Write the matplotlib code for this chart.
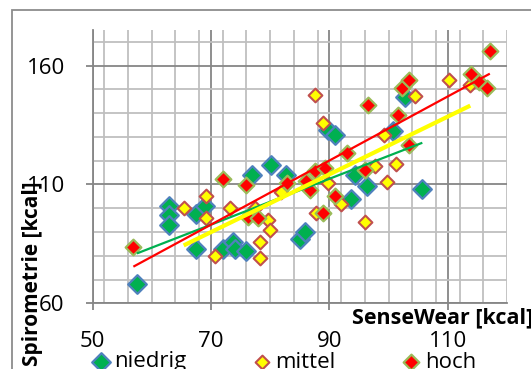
import numpy as np
import matplotlib
matplotlib.use("Agg")
import matplotlib.pyplot as plt
from matplotlib.patches import Rectangle
from matplotlib.ticker import MultipleLocator

plt.rcParams['font.family'] = ['Open Sans', 'DejaVu Sans']

# ---- data ----
niedrig_x = [57.5, 63, 63, 63, 67.5, 69, 67.5, 72, 73.8, 74, 76, 77, 80.2, 82.6,
             85.1, 85.9, 89.8, 91, 93.7, 94.3, 96.3, 100.8, 102.8, 105.7]
niedrig_y = [68, 101, 97, 93, 97.5, 101, 83, 83, 86, 83, 82, 114, 118, 114,
             87, 90, 133, 131, 104, 114, 109.5, 132.5, 147, 108]

mittel_x = [65.4, 69.1, 69.1, 70.7, 73.2, 77.4, 78.3, 78.3, 79.7, 80, 81.9, 87.6,
            89, 89.8, 87.8, 92, 96, 97.7, 99.7, 101.3, 99.2, 104.4, 110.2, 113.8]
mittel_y = [100, 105, 96, 80, 100.3, 100.3, 86, 79, 95, 91, 107, 147.5,
            135.8, 110.8, 98, 101.7, 94, 117.6, 111, 118.6, 131, 147.3, 154, 152]

hoch_x = [56.9, 72.1, 76, 76.2, 78, 82.8, 86.1, 86.7, 87.6, 89.3, 89, 90.9, 93,
          96, 96.5, 101.6, 102.3, 103.5, 103.5, 114, 115.3, 116.6, 117.1]
hoch_y = [83.6, 112.5, 109.6, 96.5, 96, 110.8, 111.5, 107.5, 115.8, 117, 98.1, 105, 123.3,
          116.3, 143.3, 139.3, 150.5, 154, 126.8, 156.5, 153.3, 150.4, 166.2]

series_names = ["niedrig", "mittel", "hoch"]
x_ticks = [50, 70, 90, 110]
y_ticks = [60, 110, 160]

# ---- styles ----
W, H = 531, 369
fig = plt.figure(figsize=(W / 100, H / 100), dpi=100)
ax = fig.add_axes([92.5 / W, 1 - 303.3 / H, (507 - 92.5) / W, (303.3 - 30) / H])

major_c = "#868686"
minor_c = "#BFBFBF"

ax.set_xlim(50, 120)
ax.set_ylim(60, 175)
ax.xaxis.set_minor_locator(MultipleLocator(4))
ax.yaxis.set_minor_locator(MultipleLocator(10))
ax.set_xticks(x_ticks)
ax.set_yticks(y_ticks)
ax.grid(which="minor", color=minor_c, lw=1.3, zorder=0)
ax.grid(which="major", color=major_c, lw=1.3, zorder=0)
ax.set_axisbelow(True)
for s in ["top", "right"]:
    ax.spines[s].set_visible(False)
for s in ["left", "bottom"]:
    ax.spines[s].set_color(major_c)
    ax.spines[s].set_linewidth(1.3)
ax.tick_params(which="minor", length=0)
ax.tick_params(which="major", length=5, width=1.3, color=major_c, labelsize=16)
ax.tick_params(axis="x", pad=15)
ax.tick_params(axis="y", pad=15)

styles = [
    dict(fc="#00B050", ec="#4F81BD", s=9.5 ** 2, lw=1.6, tc="#00B050", tw=1.6),
    dict(fc="#FFFF00", ec="#C0504D", s=7.0 ** 2, lw=1.5, tc="#FFFF00", tw=3.0),
    dict(fc="#FF0000", ec="#9BBB59", s=8.0 ** 2, lw=1.6, tc="#FF0000", tw=1.6),
]
data = [(niedrig_x, niedrig_y), (mittel_x, mittel_y), (hoch_x, hoch_y)]

for i, ((xs, ys), st, name) in enumerate(zip(data, styles, series_names)):
    ax.scatter(xs, ys, marker="D", s=st["s"], facecolor=st["fc"], edgecolor=st["ec"],
               linewidths=st["lw"], zorder=3 + i, label=name)
for i, ((xs, ys), st) in enumerate(zip(data, styles)):
    xs = np.asarray(xs); ys = np.asarray(ys)
    m, b = np.polyfit(xs, ys, 1)
    xx = np.array([xs.min(), xs.max()])
    ax.plot(xx, m * xx + b, color=st["tc"], lw=st["tw"], zorder=7, solid_capstyle="butt")

fig.text(33 / W, 1 - 274 / H, "Spirometrie [kcal]", fontsize=15, fontweight="bold",
         rotation=90, ha="center", va="center")
fig.text(533 / W, 1 - 318 / H, "SenseWear [kcal]", fontsize=15.5, fontweight="bold",
         ha="right", va="center")

# outer chart border
fig.add_artist(Rectangle((12 / W, -0.2), 1.2, 0.2 + (1 - 10 / H), transform=fig.transFigure,
                         fill=False, ec="#8C8C8C", lw=1.3))

handles, labels = ax.get_legend_handles_labels()
fig.legend(handles, labels, loc="center", bbox_to_anchor=(0.535, 1 - 362 / H), ncol=3,
           frameon=False, fontsize=16, handletextpad=0.2, columnspacing=3.0,
           handlelength=0.8, borderpad=0, borderaxespad=0)

fig.savefig("out.png", dpi=100)
